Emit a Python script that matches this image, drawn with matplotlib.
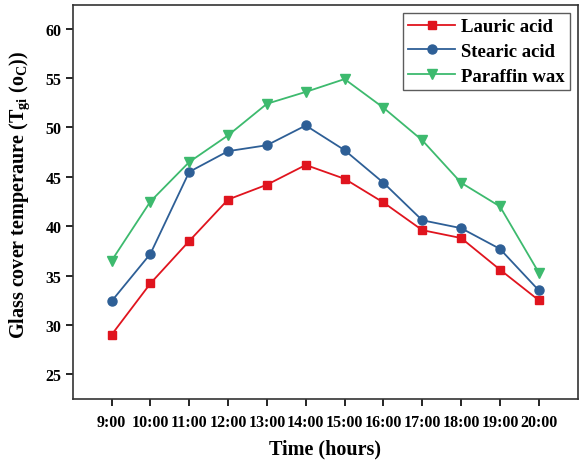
import numpy as np
import matplotlib.pyplot as plt

hours = ['9:00', '10:00', '11:00', '12:00', '13:00', '14:00', '15:00',
         '16:00', '17:00', '18:00', '19:00', '20:00']
lauric = [29.0, 34.2, 38.5, 42.7, 44.2, 46.2, 44.8, 42.4, 39.6, 38.8, 35.6, 32.5]
stearic = [32.4, 37.2, 45.5, 47.6, 48.2, 50.2, 47.7, 44.4, 40.6, 39.8, 37.7, 33.5]
paraffin = [36.5, 42.5, 46.5, 49.2, 52.4, 53.6, 54.9, 52.0, 48.7, 44.4, 42.0, 35.3]

plt.rcParams['font.family'] = ['Liberation Serif', 'DejaVu Serif']
plt.rcParams['font.weight'] = 'bold'
plt.rcParams['mathtext.fontset'] = 'custom'
plt.rcParams['mathtext.rm'] = 'Liberation Serif:bold'
plt.rcParams['mathtext.it'] = 'Liberation Serif:bold'

fig = plt.figure(figsize=(5.79, 4.64), dpi=100)
ax = fig.add_axes([0.1256, 0.138, 0.872, 0.849])

x = np.arange(len(hours))
ax.plot(x, lauric, color='#e0141e', marker='s', markersize=6, lw=1.3, label='Lauric acid')
ax.plot(x, stearic, color='#2e5f96', marker='o', markersize=6.5, lw=1.3, label='Stearic acid')
ax.plot(x, paraffin, color='#3dba6e', marker='v', markersize=7, lw=1.3, label='Paraffin wax')

ax.set_xlim(-1, 12)
ax.set_ylim(22.5, 62.4)
ax.set_xticks(x)
ax.set_xticklabels(hours)
ax.set_yticks(np.arange(25, 61, 5))
ax.tick_params(axis='both', labelsize=11.5, width=1.2, length=5, direction='out')
ax.tick_params(axis='x', pad=6)
ax.tick_params(axis='y', pad=3)
for s in ax.spines.values():
    s.set_linewidth(1.2)
    s.set_color('#333333')

ax.set_xlabel('Time (hours)', fontsize=14.5, fontweight='bold', labelpad=6)
ax.set_ylabel('Glass cover temperaure (T$_{gi}$ (o$_C$))', fontsize=14.5,
              fontweight='bold')
ax.yaxis.set_label_coords(-0.08, 0.52)

leg = ax.legend(loc='upper right', fontsize=13.5, frameon=True, fancybox=False,
                edgecolor='#333333', handlelength=2.5, handletextpad=0.3,
                borderpad=0.3, labelspacing=0.4, borderaxespad=0.4)
leg.get_frame().set_linewidth(1.0)

fig.savefig('out.png', dpi=100)
